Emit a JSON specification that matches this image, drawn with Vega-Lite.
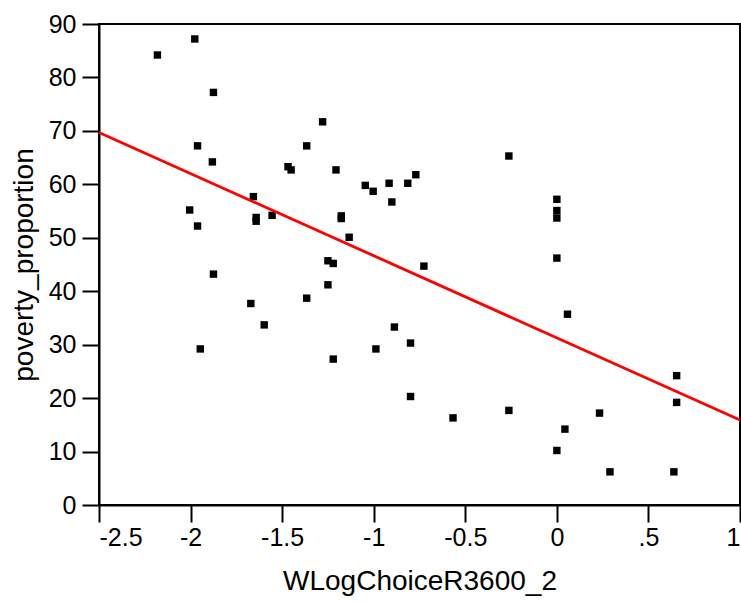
{
  "$schema": "https://vega.github.io/schema/vega-lite/v6.json",
  "autosize": "none",
  "padding": {"left": 99, "top": 24, "right": 1, "bottom": 98},
  "width": 641,
  "height": 481,
  "background": "white",
  "config": {
    "font": "Liberation Sans",
    "view": {"stroke": "black", "strokeWidth": 2},
    "axis": {
      "grid": false,
      "domainColor": "black",
      "domainWidth": 2,
      "tickColor": "black",
      "tickWidth": 2,
      "tickSize": 17,
      "labelColor": "black",
      "labelFontSize": 25,
      "labelFont": "Liberation Sans",
      "titleFont": "Liberation Sans",
      "titleFontSize": 28,
      "titleFontWeight": "normal",
      "titleColor": "black"
    }
  },
  "datasets": {
    "pts": [
      {"x": -2.181, "y": 84.2}, {"x": -1.977, "y": 87.2}, {"x": -1.875, "y": 77.2}, {"x": -1.279, "y": 71.7},
      {"x": -1.962, "y": 67.2}, {"x": -1.366, "y": 67.2}, {"x": -1.881, "y": 64.2}, {"x": -1.468, "y": 63.3},
      {"x": -1.451, "y": 62.7}, {"x": -1.206, "y": 62.7}, {"x": -0.770, "y": 61.8}, {"x": -0.916, "y": 60.2},
      {"x": -0.814, "y": 60.2}, {"x": -1.046, "y": 59.8}, {"x": -1.003, "y": 58.7}, {"x": -0.901, "y": 56.7},
      {"x": -2.005, "y": 55.2}, {"x": -1.657, "y": 57.7}, {"x": -1.962, "y": 52.2}, {"x": -1.642, "y": 53.8},
      {"x": -1.642, "y": 53.1}, {"x": -1.555, "y": 54.2}, {"x": -1.177, "y": 54.1}, {"x": -1.177, "y": 53.6},
      {"x": -1.134, "y": 50.1}, {"x": -1.250, "y": 45.7}, {"x": -1.221, "y": 45.2}, {"x": -0.726, "y": 44.7},
      {"x": -1.875, "y": 43.2}, {"x": -1.671, "y": 37.7}, {"x": -1.366, "y": 38.7}, {"x": -1.250, "y": 41.2},
      {"x": -1.598, "y": 33.7}, {"x": -1.947, "y": 29.2}, {"x": -0.988, "y": 29.2}, {"x": -0.887, "y": 33.3},
      {"x": -0.799, "y": 30.3}, {"x": -1.221, "y": 27.3}, {"x": -0.799, "y": 20.3}, {"x": -0.262, "y": 65.3},
      {"x": 0, "y": 57.2}, {"x": 0, "y": 55.1}, {"x": 0, "y": 53.7}, {"x": 0, "y": 46.2},
      {"x": 0.058, "y": 35.7}, {"x": 0.654, "y": 24.2}, {"x": 0.654, "y": 19.2}, {"x": -0.567, "y": 16.3},
      {"x": -0.262, "y": 17.7}, {"x": 0.233, "y": 17.2}, {"x": 0.044, "y": 14.2}, {"x": 0, "y": 10.2},
      {"x": 0.290, "y": 6.2}, {"x": 0.639, "y": 6.2}
    ],
    "fit": [
      {"x": -2.5, "y": 69.7},
      {"x": 1, "y": 15.9}
    ]
  },
  "encoding": {
    "x": {
      "field": "x", "type": "quantitative",
      "scale": {"domain": [-2.5, 1], "nice": false, "zero": false},
      "axis": {
        "title": "WLogChoiceR3600_2",
        "values": [-2.5, -2, -1.5, -1, -0.5, 0, 0.5, 1],
        "labelExpr": "datum.value == 0.5 ? '.5' : (datum.value < 0 ? '-' + format(-datum.value, '~g') : format(datum.value, '~g'))",
        "labelPadding": 3,
        "titlePadding": 17
      }
    },
    "y": {
      "field": "y", "type": "quantitative",
      "scale": {"domain": [0, 90], "nice": false},
      "axis": {
        "title": "poverty_proportion",
        "values": [0, 10, 20, 30, 40, 50, 60, 70, 80, 90],
        "labelPadding": 6,
        "titlePadding": 10
      }
    }
  },
  "layer": [
    {
      "data": {"name": "pts"},
      "mark": {"type": "point", "shape": "square", "filled": true, "color": "black", "opacity": 1, "size": 55}
    },
    {
      "data": {"name": "fit"},
      "mark": {"type": "line", "color": "#ff0000", "strokeWidth": 2.8}
    }
  ]
}
